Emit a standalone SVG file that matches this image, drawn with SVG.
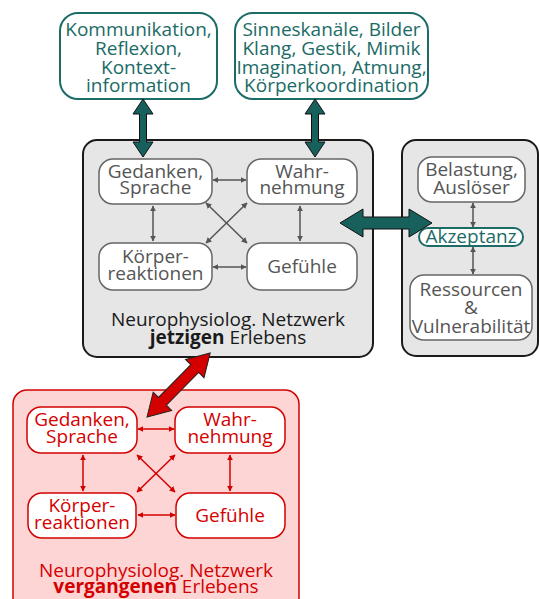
<svg xmlns="http://www.w3.org/2000/svg" width="540" height="599" viewBox="0 0 540 599">
<defs>
<style>
text{font-family:"Open Sans","Noto Sans","DejaVu Sans",sans-serif;font-size:19px;text-anchor:middle}
.teal{fill:#ffffff;stroke:#1b6b66;stroke-width:2}
.tealt{fill:#1b6b66}
.gbox{fill:#e6e6e6;stroke:#1a1a1a;stroke-width:2}
.gnode{fill:#ffffff;stroke:#666666;stroke-width:1.5}
.gt{fill:#555555}
.rbox{fill:#fdd5d5;stroke:#d40000;stroke-width:1.5}
.rnode{fill:#ffffff;stroke:#d40000;stroke-width:1.5}
.rt{fill:#d40000}
.ga{stroke:#555555;stroke-width:1.5;fill:none;marker-start:url(#mg);marker-end:url(#mg)}
.ra{stroke:#d40000;stroke-width:1.5;fill:none;marker-start:url(#mr);marker-end:url(#mr)}
.big{fill:#17605c;stroke:#111111;stroke-width:1}
.bigr{fill:#d40000;stroke:#222222;stroke-width:1}
</style>
<marker id="mg" viewBox="0 0 10 10" refX="9" refY="5" markerWidth="6" markerHeight="6" orient="auto-start-reverse" markerUnits="userSpaceOnUse"><path d="M0,0 L10,5 L0,10 z" fill="#555555"/></marker>
<marker id="mr" viewBox="0 0 10 10" refX="9" refY="5" markerWidth="6" markerHeight="6" orient="auto-start-reverse" markerUnits="userSpaceOnUse"><path d="M0,0 L10,5 L0,10 z" fill="#d40000"/></marker>
</defs>

<g id="top-left">
<rect class="teal" x="60" y="13" width="157" height="86" rx="18"/>
<text class="tealt" x="138.5" y="36">Kommunikation,</text>
<text class="tealt" x="138.5" y="55">Reflexion,</text>
<text class="tealt" x="138.5" y="74">Kontext-</text>
<text class="tealt" x="138.5" y="92">information</text>
</g>
<g id="top-right">
<rect class="teal" x="235" y="13" width="193" height="86" rx="18"/>
<text class="tealt" x="331.5" y="36">Sinneskanäle, Bilder</text>
<text class="tealt" x="331.5" y="55">Klang, Gestik, Mimik</text>
<text class="tealt" x="331.5" y="74">Imagination, Atmung,</text>
<text class="tealt" x="331.5" y="92">Körperkoordination</text>
</g>

<g id="present">
<rect class="gbox" x="83" y="140" width="290" height="217" rx="14"/>
<text x="228" y="326" fill="#1a1a1a">Neurophysiolog. Netzwerk</text>
<text x="228" y="344" fill="#1a1a1a"><tspan font-weight="bold">jetzigen</tspan> Erlebens</text>
</g>
<g id="p-gedanken">
<rect class="gnode" x="99" y="159" width="113" height="45" rx="14"/>
<text class="gt" x="155.5" y="178">Gedanken,</text>
<text class="gt" x="155.5" y="194">Sprache</text>
</g>
<g id="p-wahrnehmung">
<rect class="gnode" x="247" y="159" width="110" height="45" rx="14"/>
<text class="gt" x="302" y="178">Wahr-</text>
<text class="gt" x="302" y="194">nehmung</text>
</g>
<g id="p-koerper">
<rect class="gnode" x="99" y="243" width="113" height="47" rx="14"/>
<text class="gt" x="155.5" y="263">Körper-</text>
<text class="gt" x="155.5" y="280">reaktionen</text>
</g>
<g id="p-gefuehle">
<rect class="gnode" x="247" y="243" width="110" height="47" rx="14"/>
<text class="gt" x="302" y="273">Gefühle</text>
</g>

<g id="resources">
<rect class="gbox" x="402" y="140" width="136" height="216" rx="14"/>
</g>
<g id="r-belastung">
<rect class="gnode" x="418" y="157" width="107" height="45" rx="14"/>
<text class="gt" x="471.5" y="176">Belastung,</text>
<text class="gt" x="471.5" y="194">Auslöser</text>
</g>
<g id="r-akzeptanz">
<rect class="teal" x="419" y="228" width="104" height="18" rx="9" stroke-width="1.5"/>
<text class="tealt" x="471" y="243">Akzeptanz</text>
</g>
<g id="r-ressourcen">
<rect class="gnode" x="410" y="275" width="122" height="65" rx="14"/>
<text class="gt" x="471" y="296">Ressourcen</text>
<text class="gt" x="471" y="314">&amp;</text>
<text class="gt" x="471" y="333">Vulnerabilität</text>
</g>

<g id="past">
<rect class="rbox" x="13" y="390" width="286" height="225" rx="14"/>
<text class="rt" x="156" y="577">Neurophysiolog. Netzwerk</text>
<text class="rt" x="156" y="593"><tspan font-weight="bold">vergangenen</tspan> Erlebens</text>
</g>
<g id="v-gedanken">
<rect class="rnode" x="27" y="407" width="110" height="46" rx="14"/>
<text class="rt" x="82" y="426">Gedanken,</text>
<text class="rt" x="82" y="443">Sprache</text>
</g>
<g id="v-wahrnehmung">
<rect class="rnode" x="175" y="407" width="110" height="46" rx="14"/>
<text class="rt" x="230" y="426">Wahr-</text>
<text class="rt" x="230" y="443">nehmung</text>
</g>
<g id="v-koerper">
<rect class="rnode" x="28" y="493" width="108" height="45" rx="14"/>
<text class="rt" x="82" y="512">Körper-</text>
<text class="rt" x="82" y="529">reaktionen</text>
</g>
<g id="v-gefuehle">
<rect class="rnode" x="176" y="493" width="109" height="45" rx="14"/>
<text class="rt" x="230" y="522">Gefühle</text>
</g>

<g id="connectors">
<polygon class="big" points="143,99 153,114 146.5,114 146.5,142 153,142 143,157 133,142 139.5,142 139.5,114 133,114"/>
<polygon class="big" points="315,99 325,114 318.5,114 318.5,142 325,142 315,157 305,142 311.5,142 311.5,114 305,114"/>
<polygon class="big" points="340,223 363,209 363,217 409,217 409,209 432,223 409,237 409,229 363,229 363,237"/>
<polygon class="bigr" transform="translate(147,417) rotate(-45.4)" points="0,0 22,-13 22,-5.5 68,-5.5 68,-13 90,0 68,13 68,5.5 22,5.5 22,13"/>
<line class="ga" x1="213" y1="180" x2="246" y2="180"/>
<line class="ga" x1="213" y1="267" x2="246" y2="267"/>
<line class="ga" x1="206" y1="203" x2="247" y2="243"/>
<line class="ga" x1="247" y1="203" x2="206" y2="243"/>
<line class="ga" x1="153" y1="206" x2="153" y2="241"/>
<line class="ga" x1="300" y1="206" x2="300" y2="241"/>
<line class="ga" x1="473" y1="203" x2="473" y2="227"/>
<line class="ga" x1="473" y1="247" x2="473" y2="274"/>
<line class="ra" x1="138" y1="429" x2="174" y2="429"/>
<line class="ra" x1="138" y1="515" x2="175" y2="515"/>
<line class="ra" x1="137" y1="455" x2="175" y2="492"/>
<line class="ra" x1="175" y1="455" x2="137" y2="492"/>
<line class="ra" x1="83" y1="455" x2="83" y2="491"/>
<line class="ra" x1="230" y1="455" x2="230" y2="491"/>
</g>
</svg>
